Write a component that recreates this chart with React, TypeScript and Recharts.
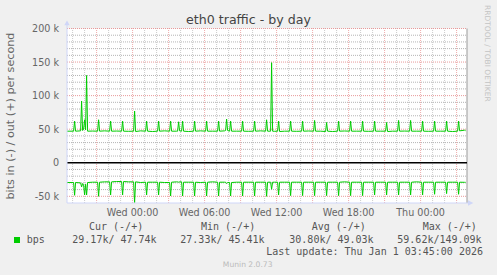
import { LineChart, Line, XAxis, YAxis, ReferenceLine, CartesianGrid } from "recharts"

// minutes relative to Wed 00:00, one sample every 5 min around each hourly burst
const minutes = [
  -328,
  -295, -290, -285, -260,
  -255, -250, -245, -240, -235, -230, -225, -200,
  -175, -170, -165, -140,
  -115, -110, -105, -80,
  -55, -50, -45, -20,
  5, 10, 15, 40,
  65, 70, 75, 100,
  125, 130, 135, 160,
  185, 190, 195, 220, 225, 230, 235,
  245, 250, 255, 280,
  305, 310, 315, 340,
  365, 370, 375, 400,
  425, 430, 435, 460, 465, 470, 475,
  485, 490, 495, 520,
  545, 550, 555, 580,
  605, 610, 615, 640,
  665, 670, 675, 690, 695, 700, 710,
  725, 730, 735, 760,
  785, 790, 795, 820,
  845, 850, 855, 880,
  905, 910, 915, 940,
  965, 970, 975, 1000,
  1025, 1030, 1035, 1060,
  1085, 1090, 1095, 1120,
  1145, 1150, 1155, 1180,
  1205, 1210, 1215, 1240,
  1265, 1270, 1275, 1300,
  1325, 1330, 1335, 1360,
  1385, 1390, 1395, 1420,
  1445, 1450, 1455, 1480,
  1505, 1510, 1515, 1540,
  1565, 1570, 1575, 1600,
  1625, 1630, 1635, 1660, 1665,
]

// out (+) in kbit/s
const outK = [
  47,
  47, 62, 47, 47.5,
  92, 48, 50, 64, 49, 130, 47, 47.2,
  47, 64, 47, 47.5,
  47, 62, 47, 47.2,
  47, 62, 47, 46.8,
  47, 77, 46.5, 47.5,
  47, 62, 47, 46.5,
  47, 62, 47, 47.5,
  47, 62, 47, 47, 47, 61, 47.5,
  47, 62, 47, 46.5,
  47, 62, 47, 47.5,
  47, 62, 47, 47,
  47, 62, 47, 47.5, 48, 65, 48,
  47, 62, 47, 47,
  47, 62, 47, 46.8,
  47, 62, 47, 47.5,
  47, 64, 47, 47, 149.09, 47, 46.8,
  47, 62, 46.5, 47,
  47, 62, 47, 46.8,
  47, 62, 47, 47.3,
  47, 63, 47, 47,
  46.5, 60, 47, 46.5,
  47, 62, 47, 47.3,
  47, 62, 47, 47,
  47, 62, 47, 46.8,
  47, 62, 47, 47,
  47, 60, 46.5, 47,
  47, 63, 47, 47.2,
  47, 63, 47, 47,
  47, 62, 47, 46.8,
  47, 62, 47, 47,
  47, 62, 47, 46.5,
  47, 62, 47.5, 48.5, 47.74,
]

// in (-) in kbit/s, drawn below zero
const inK = [
  -29.5,
  -29.5, -48.5, -29.5, -30,
  -36, -31, -33, -48, -32, -48, -29.5, -29,
  -29, -50, -29, -28.5,
  -28.5, -48, -28.5, -28,
  -28, -48, -28, -28.5,
  -28.5, -59.62, -28.5, -29.5,
  -29, -48, -29, -29,
  -29, -48, -29, -29.5,
  -29.5, -49.5, -29, -28.5, -28.5, -29, -28.5,
  -28.5, -49.5, -29, -29,
  -29, -49.5, -29, -29.5,
  -29, -49.5, -29, -28.5,
  -29, -49.5, -29, -29, -29, -31, -29.5,
  -29.5, -49.5, -29.5, -29,
  -29, -49.5, -29, -29,
  -29, -49.5, -29, -29,
  -29, -50, -29, -29, -39.5, -29, -29,
  -29, -48, -29, -29,
  -29, -49, -29, -29,
  -29, -49, -29, -29,
  -29, -49, -29, -29,
  -29, -49, -29, -29,
  -29, -49, -29, -28.5,
  -29, -49, -29, -29,
  -29, -49, -29, -29,
  -29, -48, -29, -29,
  -29, -48, -29, -29,
  -29, -48, -29, -29,
  -29, -48, -29, -28.5,
  -29, -48, -29, -29,
  -29, -47, -29, -29,
  -29, -46, -29, -29,
  -29, -47, -29, -29.2, -29.17,
]

const xTicks = [0, 360, 720, 1080, 1440]
const xTickLabels = ["Wed 00:00", "Wed 06:00", "Wed 12:00", "Wed 18:00", "Thu 00:00"]
const yTicks = [-50, 0, 50, 100, 150, 200]
const yTickLabels = ["-50 k", "0", "50 k", "100 k", "150 k", "200 k"]

const majorX = [-180, 0, 180, 360, 540, 720, 900, 1080, 1260, 1440, 1620]
const minorX = [
  -300, -240, -120, -60, 60, 120, 240, 300, 420, 480, 600, 660, 780, 840,
  960, 1020, 1140, 1200, 1320, 1380, 1500, 1560,
]
const majorY = [-50, 50, 100, 150, 200]
const minorY = [
  -40, -30, -20, -10, 10, 20, 30, 40, 60, 70, 80, 90, 110, 120, 130, 140,
  160, 170, 180, 190,
]

const legendHeaders = ["Cur (-/+)", "Min (-/+)", "Avg (-/+)", "Max (-/+)"]
const legendValues = ["29.17k/ 47.74k", "27.33k/ 45.41k", "30.80k/ 49.03k", "59.62k/149.09k"]

const data = minutes.map((t, i) => ({ t, out: outK[i], in: inK[i] }))

const GREEN = "#00cc00"
const FONT = "'DejaVu Sans', sans-serif"
const MONO = "'DejaVu Sans Mono', monospace"

const XTick = ({ x, y, payload }: any) => (
  <text x={x} y={y} dy={7} textAnchor="middle" fontFamily={FONT} fontSize={9.6} fill="#666">
    {xTickLabels[xTicks.indexOf(payload.value)]}
  </text>
)

const YTick = ({ x, y, payload }: any) => (
  <text x={x} y={y} dy={3.5} textAnchor="end" fontFamily={FONT} fontSize={9.6} fill="#666">
    {yTickLabels[yTicks.indexOf(payload.value)]}
  </text>
)

export default function App() {
  return (
    <div style={{ position: "fixed", left: 0, top: 0, width: 497, height: 275, background: "#f0f0f0" }}>
      <LineChart width={497} height={275} data={data} margin={{ top: 28.5, right: 30, left: 0, bottom: 0 }}>
        <CartesianGrid horizontal={false} vertical={false} fill="#ffffff" />
        <XAxis
          dataKey="t"
          type="number"
          domain={[-328, 1672]}
          allowDataOverflow
          ticks={xTicks}
          interval={0}
          height={72}
          tickLine={false}
          tickSize={6}
          tickMargin={0}
          axisLine={{ stroke: "#CFD6F8" }}
          tick={XTick}
        />
        <YAxis
          type="number"
          domain={[-60, 200]}
          allowDataOverflow
          ticks={yTicks}
          interval={0}
          width={67}
          tickLine={false}
          tickSize={8}
          tickMargin={0}
          axisLine={{ stroke: "#CFD6F8" }}
          tick={YTick}
        />
        {minorY.map((v) => (
          <ReferenceLine key={`my${v}`} y={v} stroke="#b4b4b4" strokeDasharray="1 1" />
        ))}
        {minorX.map((v) => (
          <ReferenceLine key={`mx${v}`} x={v} stroke="#cacaca" strokeDasharray="1 1" />
        ))}
        {majorY.map((v) => (
          <ReferenceLine key={`My${v}`} y={v} stroke="#e89a9a" strokeDasharray="1 1" />
        ))}
        {majorX.map((v) => (
          <ReferenceLine key={`Mx${v}`} x={v} stroke="#eeaaaa" strokeDasharray="1 1" />
        ))}
        <ReferenceLine x={1672} stroke="#999" />
        <ReferenceLine y={0} stroke="#000" strokeWidth={1.5} />
        <Line dataKey="out" type="linear" stroke={GREEN} strokeWidth={1} dot={false} isAnimationActive={false} />
        <Line dataKey="in" type="linear" stroke={GREEN} strokeWidth={1} dot={false} isAnimationActive={false} />
      </LineChart>
      <svg width={497} height={275} style={{ position: "absolute", left: 0, top: 0, pointerEvents: "none" }}>
        <text x={248.5} y={24} textAnchor="middle" fontFamily={FONT} fontSize={12.6} fill="#444">
          eth0 traffic - by day
        </text>
        <text
          x={14}
          y={116}
          transform="rotate(-90 14 116)"
          textAnchor="middle"
          fontFamily={FONT}
          fontSize={11.2}
          fill="#666"
        >
          bits in (-) / out (+) per second
        </text>
        <text x={485} y={5} transform="rotate(90 485 5)" fontFamily={FONT} fontSize={7.5} fill="#c4c4c4">
          RRDTOOL / TOBI OETIKER
        </text>
        {/* axis arrows */}
        <line x1={67} y1={24} x2={67} y2={28.5} stroke="#CFD6F8" />
        <polygon points="64.3,25.3 69.7,25.3 67,20.5" fill="#CFD6F8" />
        <line x1={467} y1={203} x2={469} y2={203} stroke="#CFD6F8" />
        <polygon points="468,200.3 468,205.7 473.3,203" fill="#CFD6F8" />
        {/* legend */}
        <g fontFamily={MONO} fontSize={10} fill="#555" style={{ whiteSpace: "pre" }}>
          <text x={89} y={230}>{legendHeaders[0]}</text>
          <text x={201} y={230}>{legendHeaders[1]}</text>
          <text x={311.7} y={230}>{legendHeaders[2]}</text>
          <text x={422.7} y={230}>{legendHeaders[3]}</text>
          <rect x={14} y={237} width={6} height={6} fill={GREEN} />
          <text x={26.7} y={243}>bps</text>
          <text x={72.3} y={243}>{legendValues[0]}</text>
          <text x={180.3} y={243}>{legendValues[1]}</text>
          <text x={289.3} y={243}>{legendValues[2]}</text>
          <text x={397.3} y={243}>{legendValues[3]}</text>
          <text x={483} y={255} textAnchor="end">Last update: Thu Jan  1 03:45:00 2026</text>
        </g>
        <text x={247.7} y={266.5} textAnchor="middle" fontFamily={FONT} fontSize={7.6} fill="#bbb">
          Munin 2.0.73
        </text>
      </svg>
    </div>
  )
}
